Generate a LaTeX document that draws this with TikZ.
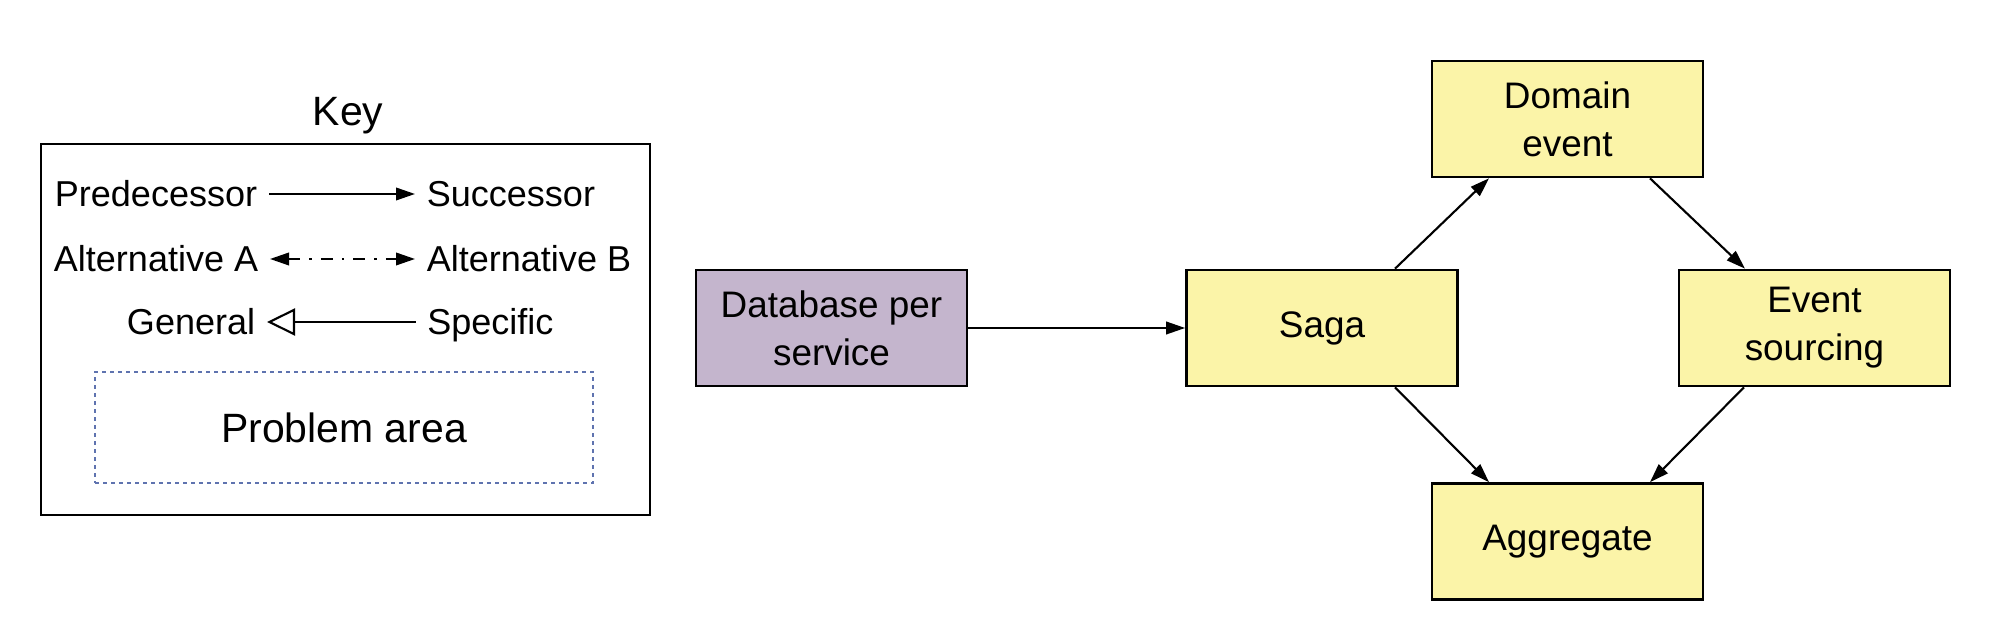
\documentclass[tikz,border=0pt]{standalone}
\usepackage{fontspec}
\setmainfont{Liberation Sans}
\usetikzlibrary{arrows.meta}

\definecolor{patternyellow}{RGB}{251,244,168}
\definecolor{patternpurple}{RGB}{196,181,205}
\definecolor{problemblue}{RGB}{95,115,175}

\tikzset{
    patternbox/.style={draw, line width=1.5pt, minimum width=5.42cm, minimum height=2.32cm,
                       align=center, font=\fontsize{21}{27.3}\selectfont},
    keylabel/.style={inner xsep=0.23cm, inner ysep=0pt, text height=14.8pt, text depth=0pt,
                     font=\fontsize{20.5}{24}\selectfont},
    succarrow/.style={-{Triangle[length=3.8mm,width=2.5mm]}, line width=1.2pt},
    altarrow/.style={{Triangle[length=3.8mm,width=2.5mm]}-{Triangle[length=3.8mm,width=2.5mm]},
                     line width=1.2pt, dash pattern=on 0.24cm off 0.18cm on 0.05cm off 0.18cm},
    genarrow/.style={-{Triangle[open,length=5.6mm,width=5.4mm]}, line width=1.2pt},
}

\begin{document}
\begin{tikzpicture}
    \useasboundingbox (0,0) rectangle (39.88,12.56);

    \node[font=\fontsize{23.3}{28}\selectfont] (keytitle) at (6.96,10.24) {Key};
    \draw[line width=1.1pt] (0.82,2.26) rectangle (13.0,9.68);

    \node[keylabel, anchor=east] (pred) at (5.38,8.68) {Predecessor};
    \node[keylabel, anchor=west] (succ) at (8.30,8.68) {Successor};
    \draw[succarrow] (pred) -- (succ);

    \node[keylabel, anchor=east] (alta) at (5.40,7.38) {Alternative A};
    \node[keylabel, anchor=west] (altb) at (8.30,7.38) {Alternative B};
    \draw[altarrow] (alta) -- (altb);

    \node[keylabel, anchor=east] (gen)  at (5.34,6.12) {General};
    \node[keylabel, anchor=west] (spec) at (8.31,6.12) {Specific};
    \draw[genarrow] (spec) -- (gen);

    \node[draw=problemblue, line width=1.3pt, dash pattern=on 0.08cm off 0.08cm,
          minimum width=9.96cm, minimum height=2.22cm,
          font=\fontsize{23.3}{28}\selectfont] (problem) at (6.88,4.01) {Problem area};

    \node[patternbox, fill=patternpurple] (dbps)  at (16.63,6.0)  {Database per\\service};
    \node[patternbox, fill=patternyellow] (saga)  at (26.44,6.0)  {Saga};
    \node[patternbox, fill=patternyellow] (domev) at (31.35,10.18) {Domain\\event};
    \node[patternbox, fill=patternyellow] (evsrc) at (36.29,6.0)  {Event\\sourcing};
    \node[patternbox, fill=patternyellow] (aggr)  at (31.35,1.73) {Aggregate};

    \draw[succarrow] (dbps) -- (saga);
    \draw[succarrow] ([xshift=1.46cm]saga.north)   -- ([xshift=-1.57cm]domev.south);
    \draw[succarrow] ([xshift=1.65cm]domev.south)  -- ([xshift=-1.39cm]evsrc.north);
    \draw[succarrow] ([xshift=1.46cm]saga.south)   -- ([xshift=-1.57cm]aggr.north);
    \draw[succarrow] ([xshift=-1.41cm]evsrc.south) -- ([xshift=1.65cm]aggr.north);

\end{tikzpicture}
\end{document}
